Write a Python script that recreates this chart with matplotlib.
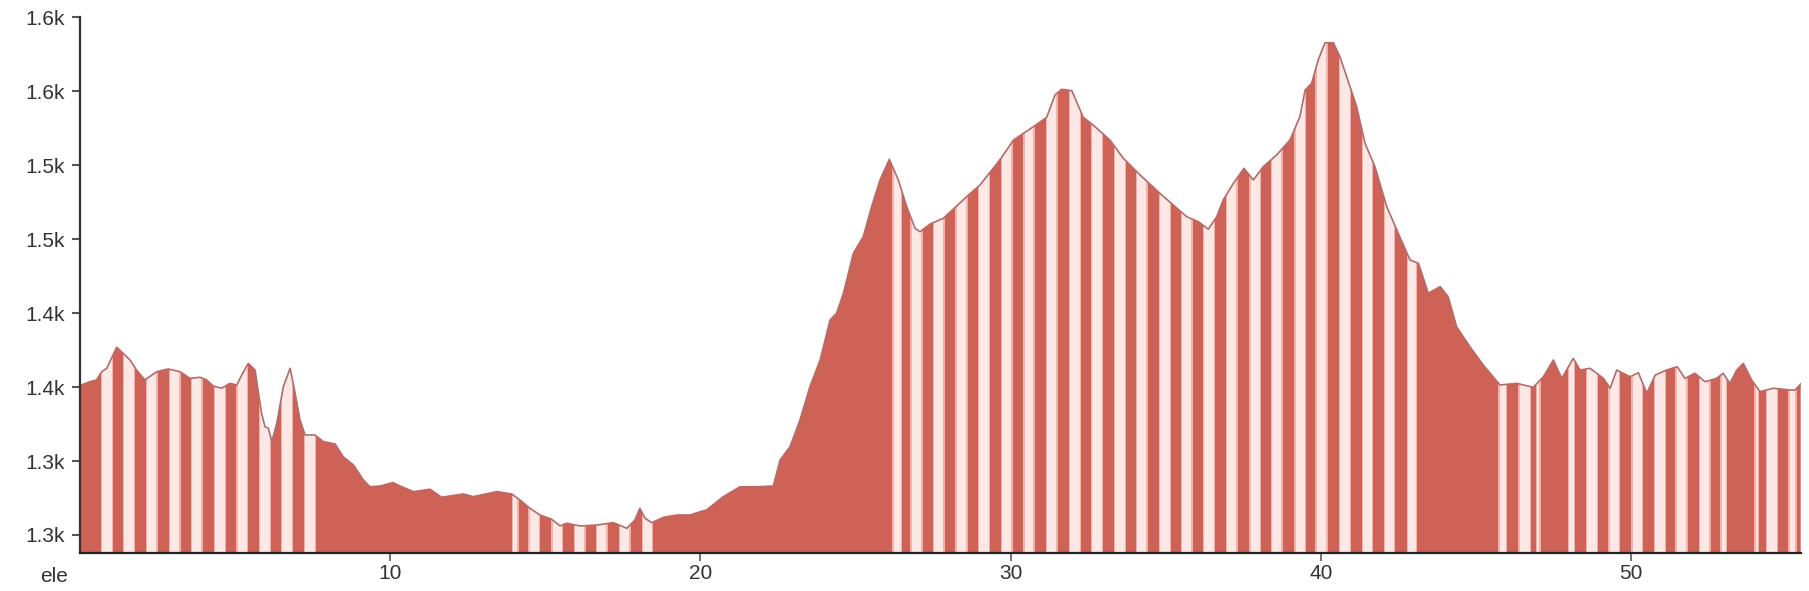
import matplotlib
matplotlib.use("Agg")
import matplotlib.pyplot as plt
from matplotlib.patches import Polygon
import numpy as np

# ---- data (distance km, elevation m) ----
dist = [0.00, 0.33, 0.54, 0.71, 0.87, 1.19, 1.40, 1.62, 1.83, 2.10, 2.48, 2.85, 3.23, 3.55,
        3.88, 4.09, 4.30, 4.57, 4.84, 5.06, 5.22, 5.43, 5.65, 5.76, 5.86, 5.97, 6.08, 6.19,
        6.35, 6.56, 6.78, 6.94, 7.10, 7.26, 7.58, 7.85, 8.23, 8.49, 8.82, 9.14, 9.35, 9.68,
        10.10, 10.32, 10.75, 11.29, 11.66, 12.36, 12.68, 13.44, 13.92, 14.19, 14.51, 14.83,
        15.21, 15.48, 15.69, 16.12, 16.66, 17.20, 17.63, 17.89, 18.05, 18.22, 18.43, 18.81,
        19.24, 19.67, 19.99, 20.20, 20.74, 21.28, 21.82, 22.35, 22.57, 22.89, 23.21, 23.53,
        23.86, 24.18, 24.39, 24.61, 24.93, 25.25, 25.52, 25.79, 26.09, 26.38, 26.65, 26.92,
        27.08, 27.40, 27.83, 28.26, 28.58, 29.01, 29.44, 29.70, 30.09, 30.73, 31.16, 31.43,
        31.64, 31.97, 32.34, 32.72, 33.20, 33.63, 34.17, 34.81, 35.24, 35.67, 36.05, 36.37,
        36.64, 36.85, 37.18, 37.52, 37.82, 38.14, 38.57, 39.00, 39.32, 39.49, 39.70, 39.91,
        40.13, 40.40, 40.61, 40.83, 41.15, 41.42, 41.74, 42.12, 42.49, 42.87, 43.14, 43.46,
        43.84, 44.10, 44.37, 44.80, 45.23, 45.77, 46.31, 46.84, 47.17, 47.49, 47.76, 48.13,
        48.35, 48.67, 49.10, 49.32, 49.53, 49.96, 50.23, 50.50, 50.77, 51.14, 51.48, 51.73,
        52.05, 52.38, 52.75, 52.96, 53.18, 53.40, 53.61, 53.88, 54.15, 54.58, 55.12, 55.28,
        55.46]
ele = [1351.0, 1353.6, 1354.8, 1360.4, 1362.7, 1376.9, 1372.8, 1368.3, 1361.5, 1354.8, 1360.4,
       1362.2, 1360.4, 1355.9, 1356.6, 1354.8, 1350.7, 1349.2, 1352.5, 1351.4, 1358.1, 1366.0,
       1361.5, 1345.8, 1332.2, 1323.2, 1322.1, 1313.1, 1325.5, 1350.2, 1362.7, 1345.8, 1327.7,
       1317.6, 1317.6, 1313.1, 1311.5, 1302.9, 1297.3, 1287.2, 1282.6, 1283.1, 1285.4, 1283.1,
       1279.3, 1280.9, 1275.5, 1277.7, 1275.9, 1279.3, 1277.7, 1273.6, 1268.0, 1263.5, 1260.6,
       1256.1, 1257.9, 1256.1, 1256.7, 1258.3, 1254.5, 1260.1, 1268.0, 1261.3, 1258.3, 1261.9,
       1263.5, 1263.5, 1265.7, 1266.9, 1275.9, 1282.6, 1282.6, 1283.1, 1300.7, 1309.7, 1327.7,
       1350.2, 1368.3, 1395.3, 1399.9, 1413.4, 1440.4, 1451.7, 1472.0, 1490.0, 1504.0, 1490.0,
       1472.0, 1457.3, 1455.0, 1460.2, 1464.1, 1472.4, 1478.7, 1486.6, 1497.9, 1505.0, 1517.0,
       1526.0, 1532.4, 1547.5, 1551.3, 1550.4, 1532.4, 1526.0, 1517.0, 1504.7, 1493.4, 1481.0,
       1473.1, 1465.2, 1461.8, 1456.7, 1465.2, 1476.5, 1487.8, 1497.9, 1490.0, 1499.0, 1506.9,
       1517.0, 1532.8, 1550.8, 1555.4, 1571.1, 1582.8, 1582.8, 1573.4, 1559.8, 1539.6, 1514.8,
       1499.0, 1472.0, 1454.0, 1435.9, 1433.7, 1413.4, 1417.9, 1411.1, 1390.8, 1377.3, 1364.9,
       1351.4, 1352.5, 1349.8, 1357.0, 1368.3, 1355.9, 1369.4, 1361.5, 1362.7, 1355.9, 1349.2,
       1361.5, 1357.0, 1359.7, 1345.8, 1358.1, 1361.5, 1363.8, 1355.9, 1359.3, 1353.6, 1355.9,
       1359.3, 1352.5, 1361.5, 1366.0, 1354.8, 1346.9, 1349.2, 1348.0, 1348.0, 1352.1]

# sampling gaps of the track (centre km, width km) -> light stripes
gap_center = [0.88, 1.59, 2.32, 3.06, 3.77, 4.52, 5.24, 5.97, 6.68, 7.42,
              14.04, 14.65, 15.38, 16.11, 16.83, 17.57, 18.30,
              26.34, 26.97, 27.69, 28.42, 29.15, 29.87, 30.59, 31.32, 32.07, 32.78, 33.52,
              34.22, 34.97, 35.67, 36.39, 37.12, 37.88, 38.57, 39.33, 40.02, 40.77, 41.50,
              42.21, 42.93,
              45.86, 46.57, 47.00, 48.07, 48.74, 49.45, 50.19, 50.93, 51.62, 52.37, 52.98,
              54.04, 54.53, 55.19]
gap_width = [0.30, 0.30, 0.30, 0.30, 0.30, 0.30, 0.30, 0.30, 0.30, 0.30,
             0.13, 0.30, 0.29, 0.29, 0.29, 0.29, 0.28,
             0.23, 0.31, 0.29, 0.31, 0.31, 0.29, 0.28, 0.30, 0.30, 0.30, 0.31,
             0.30, 0.31, 0.30, 0.30, 0.30, 0.30, 0.30, 0.30, 0.31, 0.30, 0.28,
             0.29, 0.25,
             0.20, 0.32, 0.06, 0.16, 0.31, 0.30, 0.30, 0.30, 0.30, 0.29, 0.14,
             0.06, 0.31, 0.18]

xtick_vals = [10, 20, 30, 40, 50]
ytick_vals = [1250, 1300, 1350, 1400, 1450, 1500, 1550, 1600]
ytick_labels = ["1.3k", "1.3k", "1.4k", "1.4k", "1.5k", "1.5k", "1.6k", "1.6k"]
x_label = "ele"

# ---- styling ----
FILL = "#cf6257"
STRIPE = "#fde8e6"
HALO = "#f3b2aa"
LINE = "#ad6e6d"
AXC = "#333333"
plt.rcParams["font.family"] = ["Liberation Sans", "DejaVu Sans"]

fig = plt.figure(figsize=(18.09, 5.91), dpi=100)
ax = fig.add_axes([0.04409, 0.06379, 0.95132, 0.90694])
ymin, ymax = 1237.6, 1600
ax.set_xlim(0, 55.46)
ax.set_ylim(ymin, ymax)

verts = [(dist[0], ymin)] + list(zip(dist, ele)) + [(dist[-1], ymin)]
area = Polygon(verts, closed=True, facecolor=FILL, edgecolor="none", zorder=1)
ax.add_patch(area)

heights = [ymax - ymin] * len(gap_center)
halo = ax.bar(gap_center, heights, width=[w + 0.09 for w in gap_width],
              bottom=ymin, color=HALO, edgecolor="none", zorder=2)
bars = ax.bar(gap_center, heights, width=gap_width,
              bottom=ymin, color=STRIPE, edgecolor="none", zorder=2.1)
for b in list(halo) + list(bars):
    b.set_clip_path(area)

ax.plot(dist, ele, color=LINE, lw=1.2, zorder=3, solid_joinstyle="round")

for s in ["top", "right"]:
    ax.spines[s].set_visible(False)
ax.spines["left"].set_color(AXC)
ax.spines["left"].set_linewidth(1.6)
ax.spines["bottom"].set_color("#222222")
ax.spines["bottom"].set_linewidth(1.6)
ax.spines["left"].set_zorder(4)
ax.spines["bottom"].set_zorder(4)

ax.set_yticks(ytick_vals)
ax.set_yticklabels(ytick_labels)
ax.set_xticks(xtick_vals)
ax.set_xticklabels([str(v) for v in xtick_vals])
ax.tick_params(axis="y", length=6, width=1.5, color="#555555", labelsize=15,
               labelcolor="#333333", pad=5)
ax.tick_params(axis="x", length=6, width=1.5, color="#777777", labelsize=15,
               labelcolor="#333333", pad=2)

fig.text(54 / 1809, 1 - 576 / 591, x_label, ha="center", va="center",
         fontsize=15, color="#333333")

fig.savefig("out.png", dpi=100)
